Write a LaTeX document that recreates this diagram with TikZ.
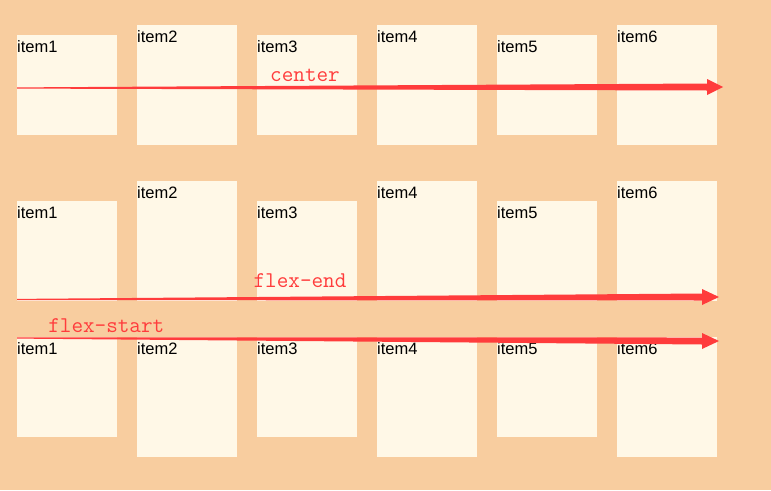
\documentclass[tikz,border=0pt]{standalone}
\usepackage{fontspec}
\setmainfont{Liberation Sans}
\definecolor{bgpeach}{RGB}{248,205,159}
\definecolor{boxcream}{RGB}{255,248,231}
\definecolor{arrowred}{RGB}{255,60,60}
\tikzset{
  itembox/.style={fill=boxcream, draw=none, minimum width=100pt, inner sep=0pt, outer sep=0pt, anchor=north west},
  shortbox/.style={itembox, minimum height=100pt},
  tallbox/.style={itembox, minimum height=120pt},
  itemlabel/.style={anchor=base west, inner sep=0pt, font=\fontsize{16.5}{18}\selectfont, text=black},
  modelabel/.style={anchor=base, inner sep=0pt, font=\ttfamily\fontsize{22.5}{24}\selectfont, text=arrowred},
  taper/.style={fill=arrowred, draw=none}
}
\begin{document}
\begin{tikzpicture}[x=1pt,y=-1pt]
\fill[bgpeach] (0,0) rectangle (771,490);
\useasboundingbox (0,0) rectangle (771,490);

% Row 1: align-items center
\foreach \i/\x/\t/\s in {1/17/35/shortbox,2/137/25/tallbox,3/257/35/shortbox,4/377/25/tallbox,5/497/35/shortbox,6/617/25/tallbox}{
  \node[\s] (a\i) at (\x,\t) {};
  \node[itemlabel] (la\i) at ([yshift=-17pt]a\i.north west) {item\i};
}
% Row 2: flex-end
\foreach \i/\x/\t/\s in {1/17/201/shortbox,2/137/181/tallbox,3/257/201/shortbox,4/377/181/tallbox,5/497/201/shortbox,6/617/181/tallbox}{
  \node[\s] (b\i) at (\x,\t) {};
  \node[itemlabel] (lb\i) at ([yshift=-17pt]b\i.north west) {item\i};
}
% Row 3: flex-start
\foreach \i/\x/\s in {1/17/shortbox,2/137/tallbox,3/257/shortbox,4/377/tallbox,5/497/shortbox,6/617/tallbox}{
  \node[\s] (c\i) at (\x,337) {};
  \node[itemlabel] (lc\i) at ([yshift=-17pt]c\i.north west) {item\i};
}

% Arrow 1 (center)
\coordinate (s1) at (17,88);
\coordinate (h1) at (707,87);
\coordinate (t1) at (723,87);
\fill[taper] ([yshift=0.6pt]s1) -- ([yshift=3.5pt]h1) -- ([yshift=8pt]h1) -- (t1) -- ([yshift=-8pt]h1) -- ([yshift=-3.5pt]h1) -- ([yshift=-0.6pt]s1) -- cycle;
\node[modelabel] (lcenter) at (305,81.5) {center};

% Arrow 2 (flex-end)
\coordinate (s2) at (17,299.5);
\coordinate (h2) at (702,297);
\coordinate (t2) at (719,297);
\fill[taper] ([yshift=0.6pt]s2) -- ([yshift=3.5pt]h2) -- ([yshift=8pt]h2) -- (t2) -- ([yshift=-8pt]h2) -- ([yshift=-3.5pt]h2) -- ([yshift=-0.6pt]s2) -- cycle;
\node[modelabel] (lend) at (300,287) {flex-end};

% Arrow 3 (flex-start)
\coordinate (s3) at (17,338);
\coordinate (h3) at (702,341);
\coordinate (t3) at (719,341);
\fill[taper] ([yshift=0.6pt]s3) -- ([yshift=3.5pt]h3) -- ([yshift=8pt]h3) -- (t3) -- ([yshift=-8pt]h3) -- ([yshift=-3.5pt]h3) -- ([yshift=-0.6pt]s3) -- cycle;
\node[modelabel] (lstart) at (106.3,332.7) {flex-start};
\end{tikzpicture}
\end{document}
